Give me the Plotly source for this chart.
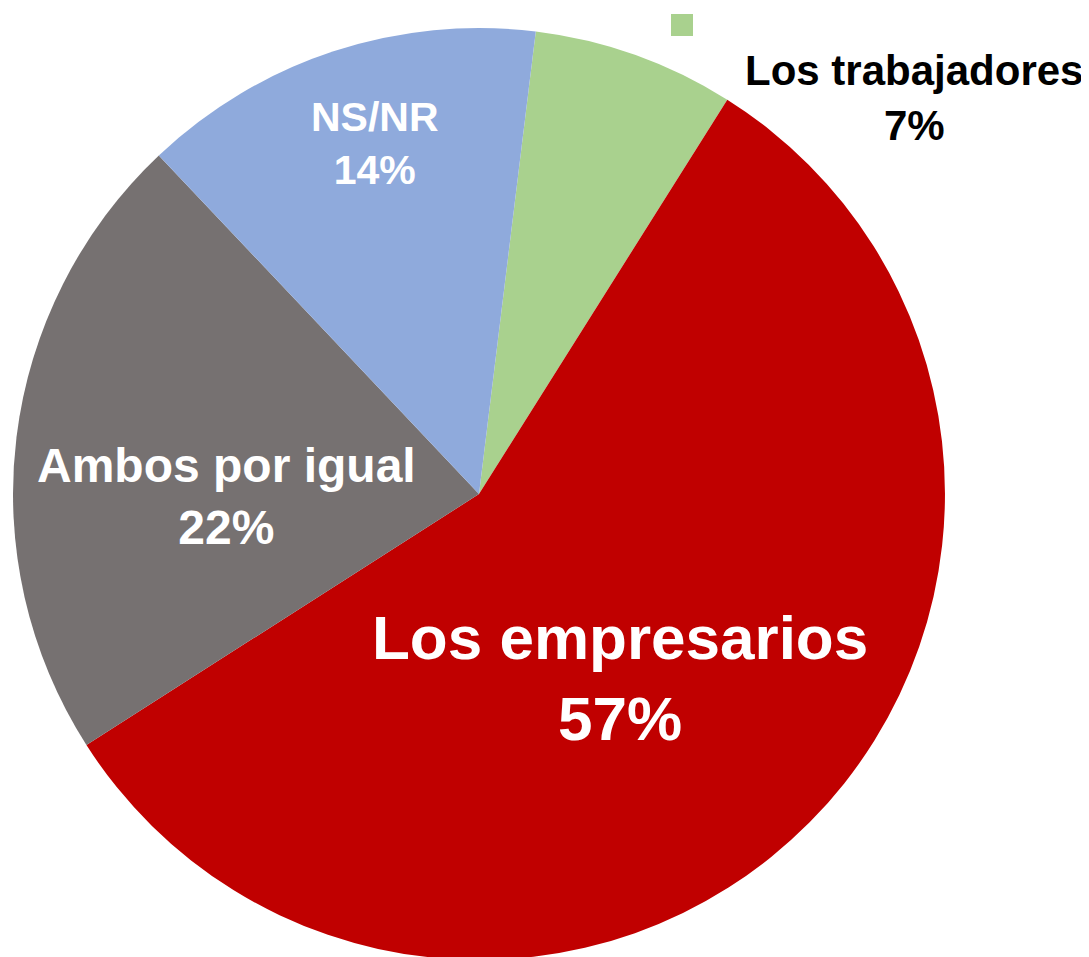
import plotly.graph_objects as go

# slice data, clockwise from the top
labels = ["Los trabajadores", "Los empresarios", "Ambos por igual", "NS/NR"]
values = [7, 57, 22, 14]
colors = ["#A9D18E", "#C00000", "#767171", "#8FAADC"]

# label placement (paper coords), font size and colour per slice
label_pos = [(0.8323, 0.9064), (0.5621, 0.3003), (0.2011, 0.4898), (0.3367, 0.8589)]
label_size = [42, 62, 48, 41]
label_color = ["black", "white", "white", "white"]

fig = go.Figure(go.Pie(
    labels=labels,
    values=values,
    marker=dict(colors=colors, line=dict(width=0)),
    sort=False,
    direction="clockwise",
    rotation=7,
    textinfo="none",
    hoverinfo="label+percent",
    domain=dict(x=[0.0046, 0.8604], y=[0.0052, 0.9791]),
))

total = sum(values)
for lab, val, (px, py), sz, col in zip(labels, values, label_pos, label_size, label_color):
    fig.add_annotation(
        x=px, y=py, xref="paper", yref="paper",
        text="<b>{}<br>{:.0f}%</b>".format(lab, 100 * val / total),
        showarrow=False, xanchor="center", yanchor="middle",
        font=dict(family="Liberation Sans, Arial, sans-serif", size=sz, color=col),
    )

# stray legend key kept from the original
fig.add_shape(type="rect", xref="paper", yref="paper",
              x0=663 / 1089, x1=685 / 1089, y0=1 - 28 / 957, y1=1 - 6 / 957,
              fillcolor=colors[0], line=dict(width=0))

fig.update_layout(
    width=1089, height=957,
    margin=dict(l=0, r=0, t=0, b=0),
    paper_bgcolor="white",
    showlegend=False,
)

fig.write_html("out.html")
